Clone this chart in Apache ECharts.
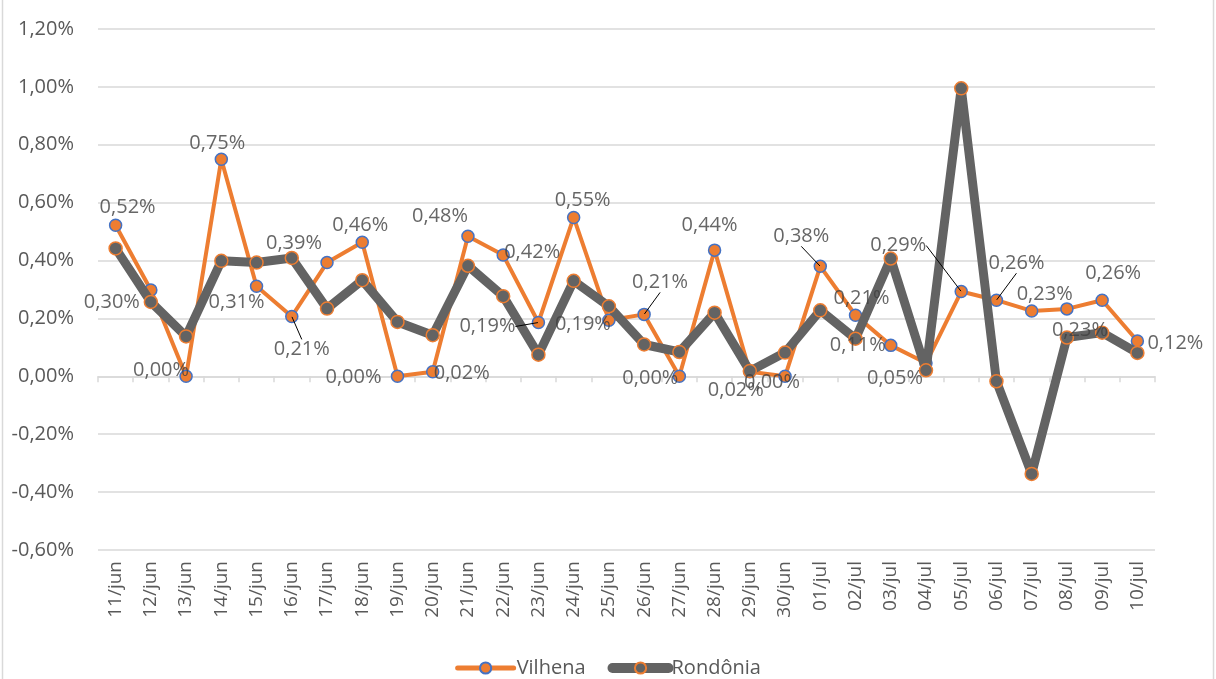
<!DOCTYPE html>
<html>
<head>
<meta charset="utf-8">
<script src="https://cdn.jsdelivr.net/npm/echarts@6/dist/echarts.min.js"></script>
<style>
html,body{margin:0;padding:0;background:#fff;}
#c{width:1216px;height:679px;}
</style>
</head>
<body>
<div id="c"></div>
<script>
const categories = ['11/jun','12/jun','13/jun','14/jun','15/jun','16/jun','17/jun','18/jun','19/jun','20/jun','21/jun','22/jun','23/jun','24/jun','25/jun','26/jun','27/jun','28/jun','29/jun','30/jun','01/jul','02/jul','03/jul','04/jul','05/jul','06/jul','07/jul','08/jul','09/jul','10/jul'];
const vilhena = [0.522,0.298,0.00,0.75,0.311,0.207,0.393,0.463,0.00,0.016,0.484,0.419,0.186,0.549,0.194,0.214,0.00,0.436,0.016,0.00,0.38,0.211,0.107,0.046,0.293,0.263,0.226,0.233,0.263,0.122];
const rondonia = [0.442,0.257,0.138,0.399,0.393,0.409,0.234,0.332,0.188,0.142,0.382,0.277,0.075,0.33,0.242,0.11,0.084,0.22,0.018,0.082,0.228,0.13,0.407,0.021,0.995,-0.017,-0.337,0.134,0.151,0.081];
const yTicks = {min:-0.6, max:1.2, interval:0.2};

// label placement offsets (style only)
const labelOffsets = [[12,-18],[-39,12],[-25,-6],[-4,-16],[-20,16],[10,33],[-33,-19],[-2,-17],[-44,1],[29,2],
  [-28,-20],[29,-3],[-51,4],[9,-17],[-26,4],[16,-32],[-29,2],[-5,-25],[-14,19],[-13,6],
  [-19,-30],[6,-17],[-33,0],[-31,15],[-63,-46],[20,-37],[13,-17],[13,21],[11,-27],[38,2]];
const leaderIdx = [5,12,15,20,24,25];

const fmt = v => v.toFixed(2).replace('.', ',') + '%';
const FONT = 'Open Sans';
const ORANGE = '#ED7D31', GRAY = '#636363', BLUE = '#4472C4';

const chart = echarts.init(document.getElementById('c'), null, {renderer:'canvas'});
chart.setOption({
  backgroundColor:'#ffffff',
  animation:false,
  textStyle:{fontFamily:FONT},
  graphic:[{type:'rect', shape:{x:2.5,y:-5,width:1211,height:700}, style:{fill:'none', stroke:'#d9d9d9', lineWidth:1.5}, silent:true}],
  grid:{left:98, right:61, top:29, bottom:129, containLabel:false},
  legend:{
    bottom:-4, left:'center', itemGap:22, itemWidth:56, itemHeight:14,
    textStyle:{fontFamily:FONT, fontSize:20, color:'#595959', padding:[0,0,0,-2]},
    data:[
      {name:'Vilhena', lineStyle:{width:5, cap:'round'}},
      {name:'Rondônia', lineStyle:{width:10, cap:'round'}}
    ]
  },
  xAxis:{
    type:'category', data:categories, boundaryGap:true,
    axisLine:{onZero:true, lineStyle:{color:'#d9d9d9', width:1.5}},
    axisTick:{show:true, length:6, lineStyle:{color:'#d9d9d9', width:1.5}},
    axisLabel:{rotate:90, margin:11, fontFamily:FONT, fontSize:19, color:'#595959', interval:0},
    splitLine:{show:false}
  },
  yAxis:{
    type:'value', min:yTicks.min, max:yTicks.max, interval:yTicks.interval,
    axisLine:{show:false}, axisTick:{show:false},
    axisLabel:{margin:24, fontFamily:FONT, fontSize:20, color:'#595959', formatter:v=>fmt(v)},
    splitLine:{lineStyle:{color:'#d9d9d9', width:1.5}}
  },
  series:[
    {
      name:'Vilhena', type:'line', z:2,
      data: vilhena,
      lineStyle:{color:ORANGE, width:4},
      itemStyle:{color:ORANGE, borderColor:BLUE, borderWidth:1.5},
      symbol:'circle', symbolSize:12, showAllSymbol:true,
      label:{show:false}
    },
    {
      name:'Rondônia', type:'line', z:3,
      data: rondonia,
      lineStyle:{color:GRAY, width:9},
      itemStyle:{color:GRAY, borderColor:ORANGE, borderWidth:1.5},
      symbol:'circle', symbolSize:13, showAllSymbol:true,
      label:{show:false}
    },
    {
      name:'VilhenaLabels', type:'scatter', z:6, silent:true,
      data: vilhena.map((v,i)=>({value:v, labelLine:{show:leaderIdx.includes(i)}})),
      symbol:'circle', symbolSize:1, itemStyle:{color:'rgba(0,0,0,0)'},
      label:{show:true, position:'inside', fontFamily:FONT, fontSize:20, color:'#404040',
        formatter:p=>fmt(p.value)},
      labelLine:{lineStyle:{color:'#000', width:1}},
      labelLayout:p=>({dx:labelOffsets[p.dataIndex][0], dy:labelOffsets[p.dataIndex][1]})
    }
  ]
});
</script>
</body>
</html>
